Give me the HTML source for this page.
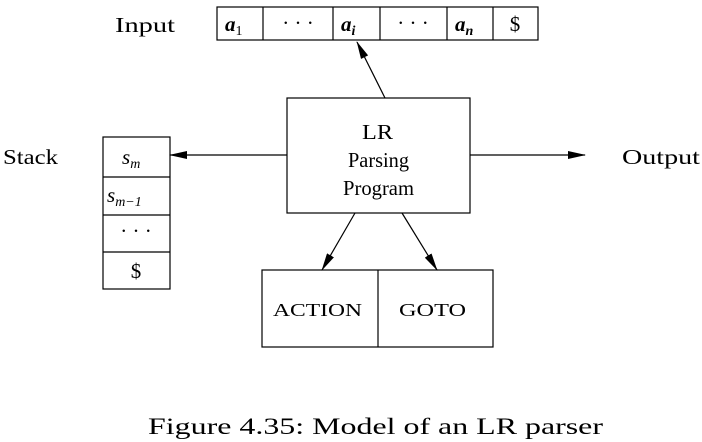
<!DOCTYPE html>
<html><head><meta charset="utf-8"><style>
html,body{margin:0;padding:0;background:#fff;}
svg{display:block;font-family:"Liberation Serif",serif;}
</style></head><body>
<svg width="702" height="442" viewBox="0 0 702 442">
<defs><marker id="ah" markerWidth="18" markerHeight="8" refX="17" refY="4" orient="auto" markerUnits="userSpaceOnUse"><path d="M0,0 L18,4 L0,8 Z" fill="#000"/></marker></defs>
<g stroke="#000" stroke-width="1.2" fill="none">
<g>
<rect x="217" y="7" width="321" height="33"/>
<line x1="263" y1="7" x2="263" y2="40"/><line x1="333" y1="7" x2="333" y2="40"/>
<line x1="380" y1="7" x2="380" y2="40"/><line x1="447" y1="7" x2="447" y2="40"/>
<line x1="493" y1="7" x2="493" y2="40"/>
</g>
<rect x="287" y="98" width="183" height="115"/>
<g>
<rect x="103" y="137" width="67" height="152"/>
<line x1="103" y1="177" x2="170" y2="177"/><line x1="103" y1="215" x2="170" y2="215"/><line x1="103" y1="252" x2="170" y2="252"/>
</g>
<g>
<rect x="262" y="270" width="231" height="77"/><line x1="378" y1="270" x2="378" y2="347"/>
</g>
<line x1="385" y1="98" x2="357" y2="42" marker-end="url(#ah)"/>
<line x1="287" y1="155" x2="170" y2="155" marker-end="url(#ah)"/>
<line x1="470" y1="155" x2="585" y2="155" marker-end="url(#ah)"/>
<line x1="355" y1="213" x2="322" y2="270" marker-end="url(#ah)"/>
<line x1="402" y1="213" x2="437" y2="270" marker-end="url(#ah)"/>
</g>
<g font-size="21" fill="#000">
<text x="115" y="32" textLength="60" lengthAdjust="spacingAndGlyphs">Input</text>
<text x="3" y="164" textLength="55" lengthAdjust="spacingAndGlyphs">Stack</text>
<text x="622" y="164" textLength="78" lengthAdjust="spacingAndGlyphs">Output</text>
<text x="225" y="31" font-style="italic" font-weight="bold">a<tspan font-size="14" font-style="normal" font-weight="normal" dy="4">1</tspan></text>
<text x="298" y="30" text-anchor="middle">· · ·</text>
<text x="341" y="31" font-style="italic" font-weight="bold">a<tspan font-size="14" dy="4">i</tspan></text>
<text x="413" y="30" text-anchor="middle">· · ·</text>
<text x="455" y="31" font-style="italic" font-weight="bold">a<tspan font-size="14" dy="4">n</tspan></text>
<text x="515" y="31" text-anchor="middle">$</text>
<text x="362" y="139" textLength="31" lengthAdjust="spacingAndGlyphs">LR</text>
<text x="348" y="167" textLength="61" lengthAdjust="spacingAndGlyphs">Parsing</text>
<text x="343" y="195" textLength="71" lengthAdjust="spacingAndGlyphs">Program</text>
<text x="122" y="164" font-style="italic">s<tspan font-size="14" dy="4">m</tspan></text>
<text x="107" y="202" font-style="italic">s<tspan font-size="14" dy="4">m−1</tspan></text>
<text x="136" y="238" text-anchor="middle">· · ·</text>
<text x="136" y="278" text-anchor="middle">$</text>
<text x="273" y="316" font-size="18" textLength="89" lengthAdjust="spacingAndGlyphs">ACTION</text>
<text x="399" y="316" font-size="18" textLength="67" lengthAdjust="spacingAndGlyphs">GOTO</text>
<text x="148" y="434" font-size="23" textLength="455" lengthAdjust="spacingAndGlyphs">Figure 4.35: Model of an LR parser</text>
</g>
</svg>
</body></html>
